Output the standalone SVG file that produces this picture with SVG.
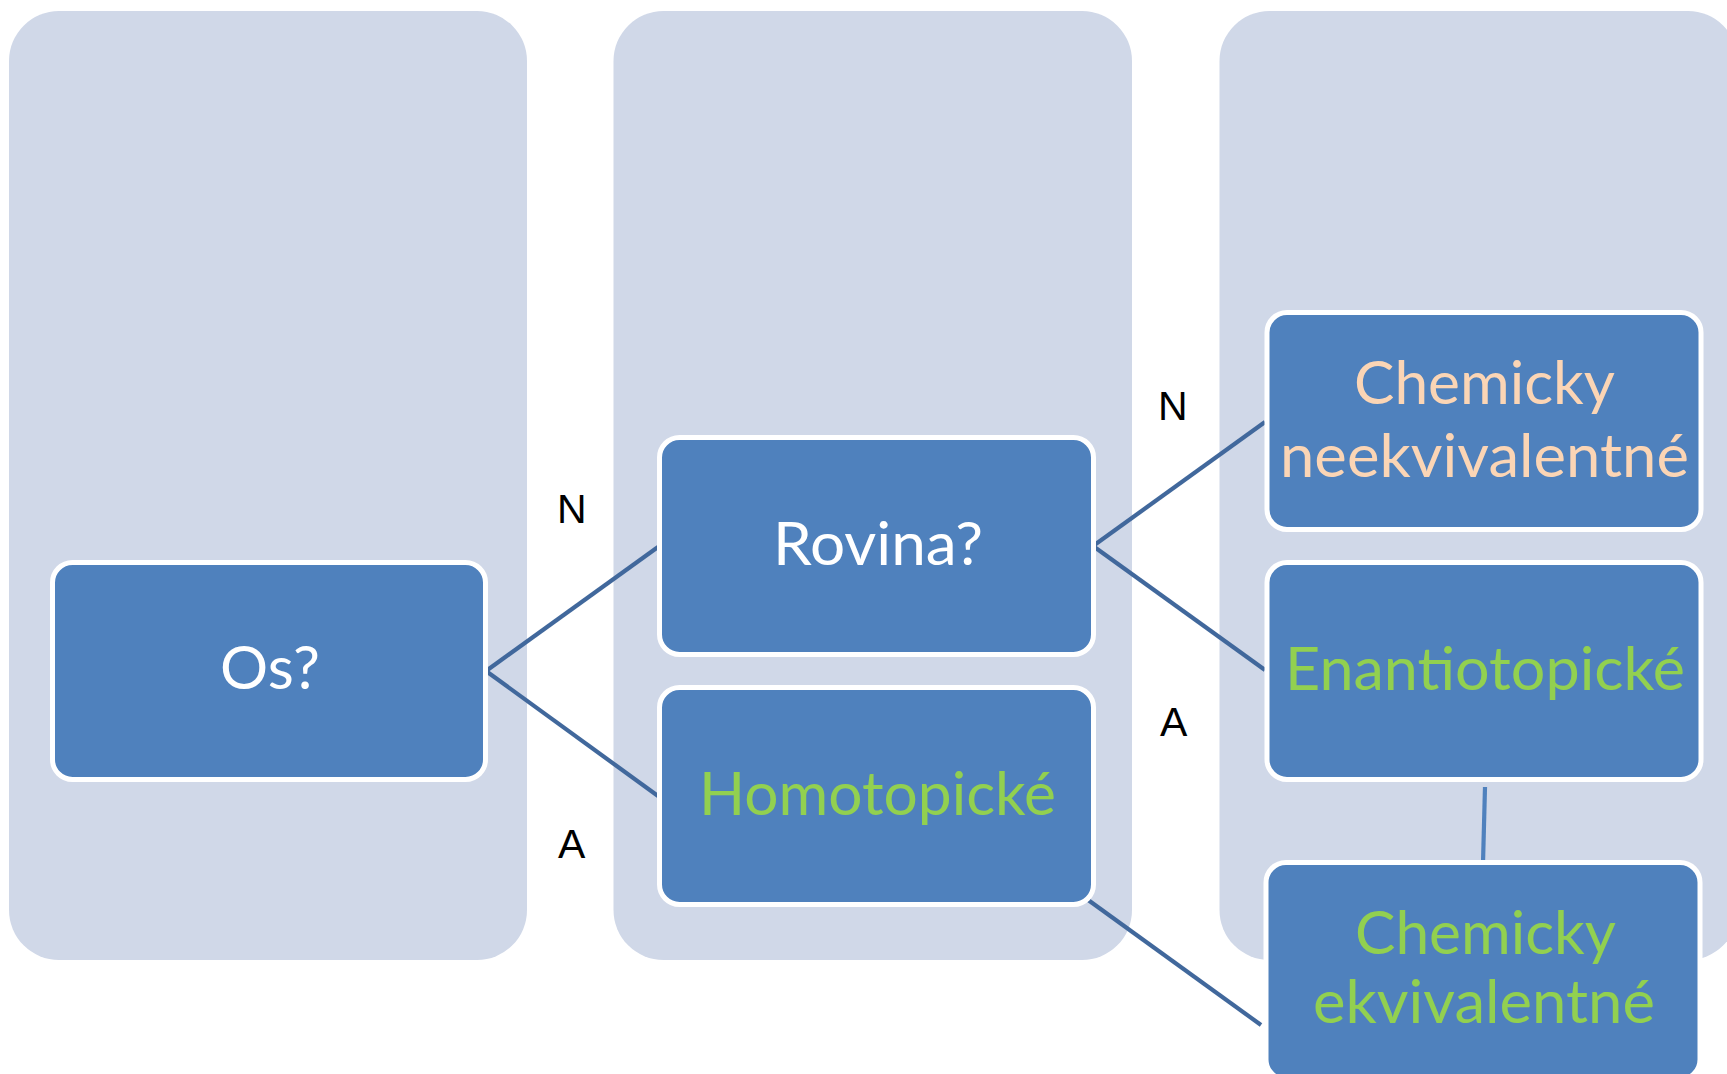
<svg xmlns="http://www.w3.org/2000/svg" width="1727" height="1074" viewBox="0 0 1727 1074">
<style>
.panel{fill:#D0D8E8}
.node rect{fill:#4F81BD;stroke:#FFFFFF;stroke-width:5}
.t{font-family:Lato,"Open Sans","Liberation Sans",sans-serif;font-size:60px;text-anchor:middle}
.w{fill:#FFFFFF}
.g{fill:#92D050}
.p{fill:#FBD5B5}
.lbl{font-family:"Liberation Sans",Arial,sans-serif;font-size:41px;fill:#000000}
.conn line{stroke:#41689C;stroke-width:4.2;fill:none}
.conn line.v{stroke:#4F81BD}
</style>
<rect width="1727" height="1074" fill="#FFFFFF"/>
<g id="panels">
<rect class="panel" x="9" y="11" width="518" height="949" rx="50" ry="50"/>
<rect class="panel" x="613.5" y="11" width="518.5" height="949" rx="50" ry="50"/>
<rect class="panel" x="1219.5" y="11" width="518.5" height="949" rx="50" ry="50"/>
</g>
<g id="connectors" class="conn">
<line x1="486" y1="671" x2="658" y2="547"/>
<line x1="486" y1="671" x2="658" y2="796"/>
<line x1="1093" y1="546" x2="1265" y2="422"/>
<line x1="1093" y1="546" x2="1265" y2="670"/>
<line x1="1084" y1="897" x2="1261" y2="1025"/>
<line class="v" x1="1485" y1="787" x2="1483" y2="863"/>
</g>
<g id="edge-labels">
<text class="lbl" x="557" y="523">N</text>
<text class="lbl" x="558" y="858">A</text>
<text class="lbl" x="1158" y="420">N</text>
<text class="lbl" x="1160" y="736">A</text>
</g>
<g id="node-os" class="node">
<rect x="52.5" y="562.5" width="433" height="217" rx="20" ry="20"/>
<text class="t w" x="270" y="689" textLength="100" lengthAdjust="spacingAndGlyphs">Os?</text>
</g>
<g id="node-rovina" class="node">
<rect x="659.5" y="437.5" width="434" height="217" rx="20" ry="20"/>
<text class="t w" x="878" y="565" textLength="210" lengthAdjust="spacingAndGlyphs">Rovina?</text>
</g>
<g id="node-homotopicke" class="node">
<rect x="659.5" y="687.5" width="434" height="217" rx="20" ry="20"/>
<text class="t g" x="877.5" y="815" textLength="357" lengthAdjust="spacingAndGlyphs">Homotopické</text>
</g>
<g id="node-neekvivalentne" class="node">
<rect x="1267" y="312.5" width="434" height="217" rx="20" ry="20"/>
<text class="t p" x="1484.5" y="404" textLength="261" lengthAdjust="spacingAndGlyphs">Chemicky</text>
<text class="t p" x="1484.5" y="477" textLength="409" lengthAdjust="spacingAndGlyphs">neekvivalentné</text>
</g>
<g id="node-enantiotopicke" class="node">
<rect x="1267" y="562.5" width="434" height="217" rx="20" ry="20"/>
<text class="t g" x="1485" y="690" textLength="400" lengthAdjust="spacingAndGlyphs">Enantiotopické</text>
</g>
<g id="node-ekvivalentne" class="node">
<rect x="1266" y="862.5" width="434" height="217" rx="20" ry="20"/>
<text class="t g" x="1485.5" y="954" textLength="261" lengthAdjust="spacingAndGlyphs">Chemicky</text>
<text class="t g" x="1484" y="1023" textLength="342" lengthAdjust="spacingAndGlyphs">ekvivalentné</text>
</g>
</svg>
